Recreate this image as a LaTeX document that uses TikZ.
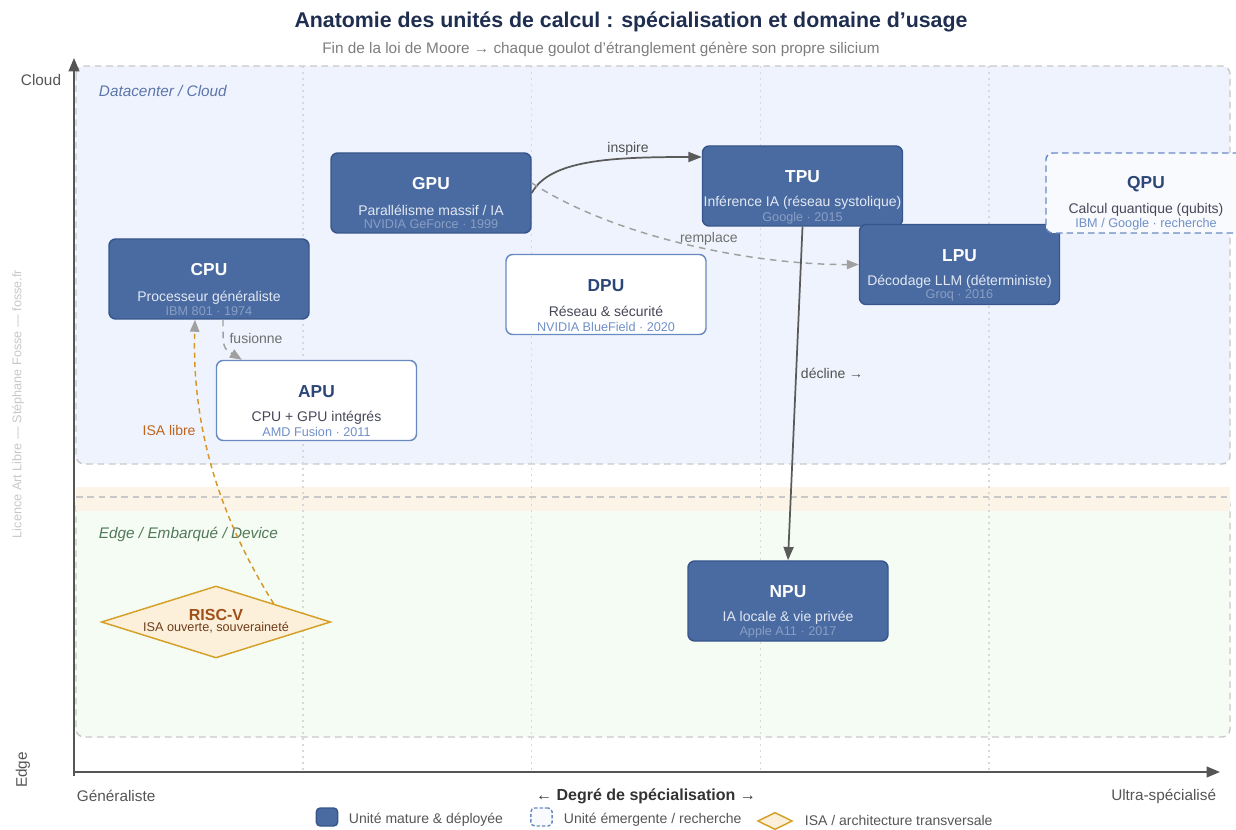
\documentclass[tikz,border=0pt]{standalone}
\usepackage{fontspec}
\setmainfont{Liberation Sans}
\usetikzlibrary{arrows.meta,calc,shapes.geometric}

\definecolor{titlecol}{RGB}{30,45,80}
\definecolor{subcol}{RGB}{125,125,125}
\definecolor{axiscol}{RGB}{85,85,85}
\definecolor{unitfill}{RGB}{74,107,161}
\definecolor{unitline}{RGB}{56,86,140}
\definecolor{unitsub}{RGB}{226,232,243}
\definecolor{unitnote}{RGB}{138,158,196}
\definecolor{newline}{RGB}{105,138,192}
\definecolor{newtitle}{RGB}{44,70,120}
\definecolor{newsub}{RGB}{70,72,88}
\definecolor{newnote}{RGB}{112,144,200}
\definecolor{cloudfill}{RGB}{239,243,253}
\definecolor{edgefill}{RGB}{244,252,243}
\definecolor{bandfill}{RGB}{253,244,232}
\definecolor{zoneline}{RGB}{200,200,200}
\definecolor{cloudtxt}{RGB}{92,118,170}
\definecolor{edgetxt}{RGB}{82,120,90}
\definecolor{isafill}{RGB}{253,240,218}
\definecolor{isaline}{RGB}{214,160,40}
\definecolor{isatitle}{RGB}{160,80,25}
\definecolor{isasub}{RGB}{110,60,25}
\definecolor{isalink}{RGB}{214,150,40}
\definecolor{isalbl}{RGB}{190,100,30}
\definecolor{linkcol}{RGB}{90,90,90}
\definecolor{dashcol}{RGB}{160,160,160}
\definecolor{gridcol}{RGB}{215,215,220}
\definecolor{markcol}{RGB}{200,200,200}

\tikzset{every picture/.style={line width=0.75pt}}

\begin{document}
\begin{tikzpicture}[x=0.75pt,y=0.75pt,yscale=-1,xscale=1,
  zone/.style={draw=zoneline, line width=1.1pt, dash pattern=on 5pt off 3.5pt, rounded corners=6pt},
  gridline/.style={draw=gridcol, line width=1.1pt, dash pattern=on 1.5pt off 3pt},
  axis/.style={draw=axiscol, line width=1.5pt, -{Triangle[length=10pt,width=8pt]}},
  mature/.style={draw=unitline, line width=1.1pt, fill=unitfill, rounded corners=5pt, minimum width=150pt, minimum height=60pt, inner sep=0pt},
  emerging/.style={draw=newline, line width=1.1pt, fill=white, rounded corners=5pt, minimum width=150pt, minimum height=60pt, inner sep=0pt},
  research/.style={emerging, fill=cloudfill!40!white, dash pattern=on 5pt off 3pt},
  isa/.style={diamond, draw=isaline, line width=1.1pt, fill=isafill, minimum width=172pt, minimum height=54pt, inner sep=0pt},
  mttl/.style={font=\bfseries\fontsize{13}{15}\selectfont, text=white, inner sep=0pt},
  msub/.style={font=\fontsize{10.5}{12}\selectfont, text=unitsub, inner sep=0pt},
  mnote/.style={font=\fontsize{9.5}{11}\selectfont, text=unitnote, inner sep=0pt},
  ettl/.style={mttl, text=newtitle},
  esub/.style={msub, text=newsub},
  enote/.style={mnote, text=newnote},
  link/.style={draw=linkcol, line width=1.3pt, -{Triangle[length=10pt,width=7.5pt]}},
  dlink/.style={draw=dashcol, line width=1.1pt, dash pattern=on 5pt off 4pt, -{Triangle[length=9pt,width=7pt]}},
  lbl/.style={font=\fontsize{10.5}{12}\selectfont, text=linkcol!90!black, inner sep=1pt},
  axlbl/.style={font=\fontsize{11.5}{13}\selectfont, text=axiscol},
  legtxt/.style={font=\fontsize{10.5}{12}\selectfont, text=axiscol, anchor=west}]
\useasboundingbox (0,0) rectangle (1236,830);

% Title
\node[font=\bfseries\fontsize{16}{19}\selectfont, text=titlecol] (title) at (631,22) {Anatomie des unités de calcul : spécialisation et domaine d'usage};
\node[font=\fontsize{11.5}{13}\selectfont, text=subcol] (subtitle) at (601,49) {Fin de la loi de Moore → chaque goulot d'étranglement génère son propre silicium};

%Zones
\draw[zone, fill=cloudfill] (76,66) rectangle (1230,464);
\draw[zone, fill=edgefill] (76,497) rectangle (1230,737);
\fill[bandfill] (76,487) rectangle (1230,511);
\draw[zone] (76,497) -- (1230,497);
\node[font=\itshape\fontsize{11.5}{13}\selectfont, text=cloudtxt, anchor=west] (cloudzone) at (94,91) {Datacenter / Cloud};
\node[font=\itshape\fontsize{11.5}{13}\selectfont, text=edgetxt, anchor=west] (edgezone) at (94,534) {Edge / Embarqué / Device};

%Grid
\foreach \gx in {302.8,531.6,760.4,989.2}
  \draw[gridline] (\gx,66) -- (\gx,770);

%Axes
\coordinate (orig) at (74,772);
\coordinate (ytop) at (74,58);
\coordinate (xend) at (1220,772);
\draw[axis] (74,776) -- (ytop);
\draw[axis] (orig) -- (xend);

% Text Node
\node[axlbl, anchor=east] (cloudlbl) at (66,80) {Cloud};
% Text Node
\node[axlbl, rotate=90] (edgelbl) at (23,770) {Edge};
% Text Node
\node[axlbl, anchor=west] (genlbl) at (72,796) {Généraliste};
% Text Node
\node[axlbl, anchor=east] (ultlbl) at (1221,796) {Ultra-spécialisé};
% Text Node
\node[font=\bfseries\fontsize{12}{14}\selectfont, text=black!80] (speclbl) at (646,796) {← Degré de spécialisation →};
% Text Node
\node[rotate=90, text=markcol, font=\fontsize{9.5}{11}\selectfont] (mark) at (18,404) {Licence Art Libre — Stéphane Fosse — fosse.fr};

%Units
\node[mature] (cpu) at (209,279) {};
\node[mttl] (cpuT) at ($(cpu)+(0,-9)$) {CPU};
\node[msub] (cpuS) at ($(cpu)+(0,19)$) {Processeur généraliste};
\node[mnote] (cpuN) at ($(cpu)+(0,32)$) {IBM 801 · 1974};

\node[mature] (gpu) at (431,193) {};
\node[mttl] (gpuT) at ($(gpu)+(0,-9)$) {GPU};
\node[msub] (gpuS) at ($(gpu)+(0,17)$) {Parallélisme massif / IA};
\node[mnote] (gpuN) at ($(gpu)+(0,31)$) {NVIDIA GeForce · 1999};

\node[mature] (tpu) at (802.5,186) {};
\node[mttl] (tpuT) at ($(tpu)+(0,-9)$) {TPU};
\node[msub] (tpuS) at ($(tpu)+(0,17)$) {Inférence IA (réseau systolique)};
\node[mnote] (tpuN) at ($(tpu)+(0,32)$) {Google · 2015};

\node[mature] (lpu) at (959.5,264.5) {};
\node[mttl] (lpuT) at ($(lpu)+(0,-9)$) {LPU};
\node[msub] (lpuS) at ($(lpu)+(0,17)$) {Décodage LLM (déterministe)};
\node[mnote] (lpuN) at ($(lpu)+(0,31)$) {Groq · 2016};

\node[research] (qpu) at (1146,193) {};
\node[ettl] (qpuT) at ($(qpu)+(0,-9)$) {QPU};
\node[esub] (qpuS) at ($(qpu)+(0,17)$) {Calcul quantique (qubits)};
\node[enote] (qpuN) at ($(qpu)+(0,31)$) {IBM / Google · recherche};

\node[emerging] (dpu) at (606,294.5) {};
\node[ettl] (dpuT) at ($(dpu)+(0,-9)$) {DPU};
\node[esub] (dpuS) at ($(dpu)+(0,17)$) {Réseau \& sécurité};
\node[enote] (dpuN) at ($(dpu)+(0,32)$) {NVIDIA BlueField · 2020};

\node[emerging] (apu) at (316.5,400.5) {};
\node[ettl] (apuT) at ($(apu)+(0,-9)$) {APU};
\node[esub] (apuS) at ($(apu)+(0,17)$) {CPU + GPU intégrés};
\node[enote] (apuN) at ($(apu)+(0,31)$) {AMD Fusion · 2011};

\node[mature] (npu) at (788,601) {};
\node[mttl] (npuT) at ($(npu)+(0,-9)$) {NPU};
\node[msub] (npuS) at ($(npu)+(0,17)$) {IA locale \& vie privée};
\node[mnote] (npuN) at ($(npu)+(0,31)$) {Apple A11 · 2017};

\node[isa] (riscv) at (216,622) {};
\node[font=\bfseries\fontsize{12}{14}\selectfont, text=isatitle, inner sep=0pt] (riscvT) at ($(riscv)+(0,-7)$) {RISC-V};
\node[font=\fontsize{9.5}{11}\selectfont, text=isasub, inner sep=0pt] (riscvS) at ($(riscv)+(0,6)$) {ISA ouverte, souveraineté};

%Links
\draw[link] (gpu.east) .. controls (550,160) and (610,157) .. ([yshift=-21.75pt]tpu.west) node[lbl, pos=0.7, above=1pt] {inspire};
\draw[dlink] ([yshift=-7.5pt]gpu.east) .. controls (620,240) and (760,265) .. (lpu.west) node[lbl, pos=0.55, above=1pt, text=dashcol!70!black] {remplace};
\draw[link] (tpu.south) -- (npu.north) node[lbl, pos=0.44, right=2pt] {décline →};
\draw[dlink] ([xshift=10.5pt]cpu.south) .. controls (223,348) .. ([xshift=-56pt]apu.north) node[lbl, pos=0.3, right=3pt, text=dashcol!70!black] {fusionne};
\draw[draw=isalink, line width=1.1pt, dash pattern=on 4pt off 3pt, -{Triangle[length=9pt,width=7pt,color=dashcol]}] ($(riscv.north)!0.5!(riscv.east)$) .. controls (215,510) and (192,420) .. ([xshift=-10.5pt]cpu.south) node[pos=0.62, left=2pt, font=\fontsize{10.5}{12}\selectfont, text=isalbl] {ISA libre};

%Legend
\node[mature, minimum width=16pt, minimum height=13.5pt, rounded corners=3pt] (legA) at (327,817) {};
\node[legtxt] (legAtxt) at (344,820) {Unité mature \& déployée};
\node[research, minimum width=16pt, minimum height=13.5pt, rounded corners=3pt, dash pattern=on 2.5pt off 1.5pt] (legB) at (541.5,817) {};
\node[legtxt] (legBtxt) at (559,820) {Unité émergente / recherche};
\node[isa, minimum width=26pt, minimum height=13pt] (legC) at (775,821) {};
\node[legtxt] (legCtxt) at (800,820) {ISA / architecture transversale};

\end{tikzpicture}
\end{document}
